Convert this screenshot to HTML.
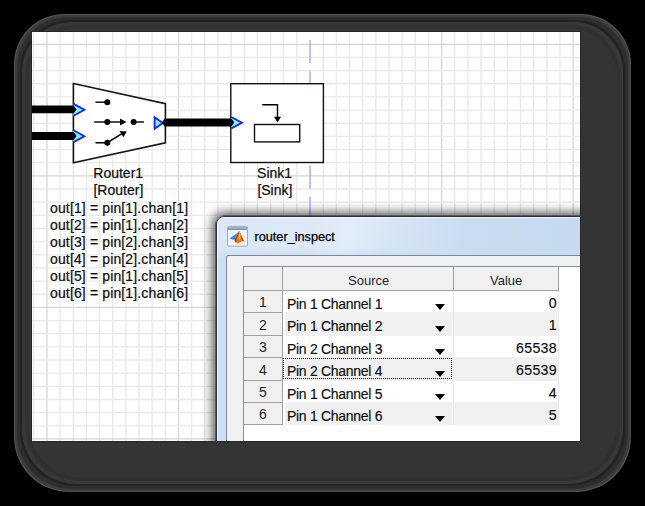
<!DOCTYPE html>
<html><head><meta charset="utf-8"><style>
html,body{margin:0;padding:0;background:#000;}
body{width:645px;height:506px;background:#000;position:relative;overflow:hidden;font-family:"Liberation Sans",sans-serif;}
.fr{position:absolute;border-radius:50px 50px 55px 55px;}
.content{position:absolute;left:32px;top:32px;width:548px;height:409px;background:#fff;overflow:hidden;box-shadow:0 0 0 1px #262626;}
.content svg{position:absolute;left:0;top:0;}
.t{position:absolute;white-space:pre;color:#0c0c0c;font-size:14px;line-height:17px;-webkit-text-stroke:0.2px #0c0c0c;}
.c{transform:translateX(-50%);}
.dlg{position:absolute;left:184px;top:184px;width:420px;height:260px;border:1px solid #3b3f44;border-radius:8px;
 background:linear-gradient(100deg,#d9e7f5 0%,#dde9f6 20%,#e2edf9 29%,#d6e5f5 38%,#c9dcf0 55%,#c3d7ed 100%);
 box-shadow:0 0 0 0.6px rgba(20,20,20,0.6), 0 0 12px 3px rgba(0,0,0,0.72), inset 0 0 0 1px rgba(255,255,255,0.7);border-color:#2c3035;}
.panel{position:absolute;left:8.5px;top:38px;width:400px;height:220px;border:1px solid #80868c;border-radius:2px;background:#f0f0f0;}
.tbl{position:absolute;left:16.5px;top:10px;width:400px;height:220px;border:1px solid #8a9097;background:#fff;}
.hdr{position:absolute;top:0;height:23px;background:#f0f0f0;border-bottom:1px solid #a0a0a0;}
.ht{position:absolute;font-size:13px;color:#1e1e1e;line-height:15px;}
.rh{position:absolute;left:0;width:38px;background:#f0f0f0;border-right:1px solid #a0a0a0;border-bottom:1px solid #a0a0a0;font-size:14px;text-align:center;color:#1e1e1e;}
.cell{position:absolute;font-size:13.4px;color:#0c0c0c;line-height:16px;-webkit-text-stroke:0.15px #0c0c0c;}
.arr{position:absolute;width:0;height:0;border-left:5px solid transparent;border-right:5px solid transparent;border-top:6px solid #000;}
</style></head><body>
<div class="fr" style="left:14px;top:14px;width:617px;height:478px;background:#505050"></div><div class="fr" style="left:15px;top:15px;width:615px;height:476px;background:#3d3d3d"></div><div class="fr" style="left:17px;top:17px;width:611px;height:472px;background:#2e2e2e"></div><div class="fr" style="left:20px;top:20px;width:605px;height:466px;background:#232323"></div><div class="fr" style="left:22px;top:22px;width:601px;height:462px;background:#383838"></div><div class="fr" style="left:25px;top:25px;width:595px;height:456px;background:#303030"></div><div class="fr" style="left:28px;top:28px;width:589px;height:450px;background:#343434"></div>
<div class="content">
<svg width="548" height="409" viewBox="0 0 548 409">
<line x1="1.80" y1="0" x2="1.80" y2="409" stroke="#e9e9e9" stroke-width="1.3"/>
<line x1="14.95" y1="0" x2="14.95" y2="409" stroke="#d6d6d6" stroke-width="1.3"/>
<line x1="28.11" y1="0" x2="28.11" y2="409" stroke="#e9e9e9" stroke-width="1.3"/>
<line x1="41.26" y1="0" x2="41.26" y2="409" stroke="#e9e9e9" stroke-width="1.3"/>
<line x1="54.41" y1="0" x2="54.41" y2="409" stroke="#e9e9e9" stroke-width="1.3"/>
<line x1="67.57" y1="0" x2="67.57" y2="409" stroke="#e9e9e9" stroke-width="1.3"/>
<line x1="80.72" y1="0" x2="80.72" y2="409" stroke="#e9e9e9" stroke-width="1.3"/>
<line x1="93.88" y1="0" x2="93.88" y2="409" stroke="#e9e9e9" stroke-width="1.3"/>
<line x1="107.03" y1="0" x2="107.03" y2="409" stroke="#e9e9e9" stroke-width="1.3"/>
<line x1="120.19" y1="0" x2="120.19" y2="409" stroke="#e9e9e9" stroke-width="1.3"/>
<line x1="133.34" y1="0" x2="133.34" y2="409" stroke="#e9e9e9" stroke-width="1.3"/>
<line x1="146.50" y1="0" x2="146.50" y2="409" stroke="#d6d6d6" stroke-width="1.3"/>
<line x1="159.65" y1="0" x2="159.65" y2="409" stroke="#e9e9e9" stroke-width="1.3"/>
<line x1="172.81" y1="0" x2="172.81" y2="409" stroke="#e9e9e9" stroke-width="1.3"/>
<line x1="185.96" y1="0" x2="185.96" y2="409" stroke="#e9e9e9" stroke-width="1.3"/>
<line x1="199.12" y1="0" x2="199.12" y2="409" stroke="#e9e9e9" stroke-width="1.3"/>
<line x1="212.27" y1="0" x2="212.27" y2="409" stroke="#e9e9e9" stroke-width="1.3"/>
<line x1="225.43" y1="0" x2="225.43" y2="409" stroke="#e9e9e9" stroke-width="1.3"/>
<line x1="238.58" y1="0" x2="238.58" y2="409" stroke="#e9e9e9" stroke-width="1.3"/>
<line x1="251.74" y1="0" x2="251.74" y2="409" stroke="#e9e9e9" stroke-width="1.3"/>
<line x1="264.89" y1="0" x2="264.89" y2="409" stroke="#e9e9e9" stroke-width="1.3"/>
<line x1="291.20" y1="0" x2="291.20" y2="409" stroke="#e9e9e9" stroke-width="1.3"/>
<line x1="304.36" y1="0" x2="304.36" y2="409" stroke="#e9e9e9" stroke-width="1.3"/>
<line x1="317.51" y1="0" x2="317.51" y2="409" stroke="#e9e9e9" stroke-width="1.3"/>
<line x1="330.67" y1="0" x2="330.67" y2="409" stroke="#e9e9e9" stroke-width="1.3"/>
<line x1="343.82" y1="0" x2="343.82" y2="409" stroke="#e9e9e9" stroke-width="1.3"/>
<line x1="356.98" y1="0" x2="356.98" y2="409" stroke="#e9e9e9" stroke-width="1.3"/>
<line x1="370.13" y1="0" x2="370.13" y2="409" stroke="#e9e9e9" stroke-width="1.3"/>
<line x1="383.29" y1="0" x2="383.29" y2="409" stroke="#e9e9e9" stroke-width="1.3"/>
<line x1="396.44" y1="0" x2="396.44" y2="409" stroke="#e9e9e9" stroke-width="1.3"/>
<line x1="409.60" y1="0" x2="409.60" y2="409" stroke="#d6d6d6" stroke-width="1.3"/>
<line x1="422.75" y1="0" x2="422.75" y2="409" stroke="#e9e9e9" stroke-width="1.3"/>
<line x1="435.91" y1="0" x2="435.91" y2="409" stroke="#e9e9e9" stroke-width="1.3"/>
<line x1="449.06" y1="0" x2="449.06" y2="409" stroke="#e9e9e9" stroke-width="1.3"/>
<line x1="462.22" y1="0" x2="462.22" y2="409" stroke="#e9e9e9" stroke-width="1.3"/>
<line x1="475.37" y1="0" x2="475.37" y2="409" stroke="#e9e9e9" stroke-width="1.3"/>
<line x1="488.53" y1="0" x2="488.53" y2="409" stroke="#e9e9e9" stroke-width="1.3"/>
<line x1="501.68" y1="0" x2="501.68" y2="409" stroke="#e9e9e9" stroke-width="1.3"/>
<line x1="514.84" y1="0" x2="514.84" y2="409" stroke="#e9e9e9" stroke-width="1.3"/>
<line x1="528.00" y1="0" x2="528.00" y2="409" stroke="#e9e9e9" stroke-width="1.3"/>
<line x1="541.15" y1="0" x2="541.15" y2="409" stroke="#d6d6d6" stroke-width="1.3"/>
<line x1="0" y1="12.30" x2="548" y2="12.30" stroke="#d6d6d6" stroke-width="1.3"/>
<line x1="0" y1="25.45" x2="548" y2="25.45" stroke="#e9e9e9" stroke-width="1.3"/>
<line x1="0" y1="38.61" x2="548" y2="38.61" stroke="#e9e9e9" stroke-width="1.3"/>
<line x1="0" y1="51.76" x2="548" y2="51.76" stroke="#e9e9e9" stroke-width="1.3"/>
<line x1="0" y1="64.92" x2="548" y2="64.92" stroke="#e9e9e9" stroke-width="1.3"/>
<line x1="0" y1="78.07" x2="548" y2="78.07" stroke="#e9e9e9" stroke-width="1.3"/>
<line x1="0" y1="91.23" x2="548" y2="91.23" stroke="#e9e9e9" stroke-width="1.3"/>
<line x1="0" y1="104.38" x2="548" y2="104.38" stroke="#e9e9e9" stroke-width="1.3"/>
<line x1="0" y1="117.54" x2="548" y2="117.54" stroke="#e9e9e9" stroke-width="1.3"/>
<line x1="0" y1="130.69" x2="548" y2="130.69" stroke="#e9e9e9" stroke-width="1.3"/>
<line x1="0" y1="143.85" x2="548" y2="143.85" stroke="#d6d6d6" stroke-width="1.3"/>
<line x1="0" y1="157.00" x2="548" y2="157.00" stroke="#e9e9e9" stroke-width="1.3"/>
<line x1="0" y1="170.16" x2="548" y2="170.16" stroke="#e9e9e9" stroke-width="1.3"/>
<line x1="0" y1="183.31" x2="548" y2="183.31" stroke="#e9e9e9" stroke-width="1.3"/>
<line x1="0" y1="196.47" x2="548" y2="196.47" stroke="#e9e9e9" stroke-width="1.3"/>
<line x1="0" y1="209.62" x2="548" y2="209.62" stroke="#e9e9e9" stroke-width="1.3"/>
<line x1="0" y1="222.78" x2="548" y2="222.78" stroke="#e9e9e9" stroke-width="1.3"/>
<line x1="0" y1="235.94" x2="548" y2="235.94" stroke="#e9e9e9" stroke-width="1.3"/>
<line x1="0" y1="249.09" x2="548" y2="249.09" stroke="#e9e9e9" stroke-width="1.3"/>
<line x1="0" y1="262.25" x2="548" y2="262.25" stroke="#e9e9e9" stroke-width="1.3"/>
<line x1="0" y1="275.40" x2="548" y2="275.40" stroke="#d6d6d6" stroke-width="1.3"/>
<line x1="0" y1="288.56" x2="548" y2="288.56" stroke="#e9e9e9" stroke-width="1.3"/>
<line x1="0" y1="301.71" x2="548" y2="301.71" stroke="#e9e9e9" stroke-width="1.3"/>
<line x1="0" y1="314.87" x2="548" y2="314.87" stroke="#e9e9e9" stroke-width="1.3"/>
<line x1="0" y1="328.02" x2="548" y2="328.02" stroke="#e9e9e9" stroke-width="1.3"/>
<line x1="0" y1="341.18" x2="548" y2="341.18" stroke="#e9e9e9" stroke-width="1.3"/>
<line x1="0" y1="354.33" x2="548" y2="354.33" stroke="#e9e9e9" stroke-width="1.3"/>
<line x1="0" y1="367.49" x2="548" y2="367.49" stroke="#e9e9e9" stroke-width="1.3"/>
<line x1="0" y1="380.64" x2="548" y2="380.64" stroke="#e9e9e9" stroke-width="1.3"/>
<line x1="0" y1="393.80" x2="548" y2="393.80" stroke="#e9e9e9" stroke-width="1.3"/>
<line x1="0" y1="406.95" x2="548" y2="406.95" stroke="#d6d6d6" stroke-width="1.3"/>
<line x1="278" y1="7.799999999999997" x2="278" y2="409" stroke="#a4a4fa" stroke-width="1.35" stroke-dasharray="23.4 8"/>
<polygon points="41.40,51.50 133.40,71.60 133.40,110.80 41.40,130.80" fill="#fff" stroke="#151515" stroke-width="1.6"/>
<rect x="198.8" y="51.7" width="92.6" height="78.8" fill="#fff" stroke="#111" stroke-width="1.4"/>
<path d="M63.50,70.20 L75.30,70.20" stroke="#000" stroke-width="1.4" fill="none"/>
<circle cx="75.3" cy="70.2" r="3" fill="#000"/>
<path d="M62.30,90.00 L89.00,90.00" stroke="#000" stroke-width="1.4" fill="none"/>
<circle cx="75.3" cy="90" r="3" fill="#000"/>
<polygon points="88.00,86.60 94.50,90.00 88.00,93.40" fill="#000"/>
<circle cx="101.6" cy="90" r="3" fill="#000"/>
<path d="M101.60,90.00 L112.00,90.00" stroke="#000" stroke-width="1.4" fill="none"/>
<path d="M63.50,110.70 L75.30,110.70 L90.00,101.60" stroke="#000" stroke-width="1.4" fill="none"/>
<circle cx="75.3" cy="110.69999999999999" r="3" fill="#000"/>
<polygon points="87.60,99.00 94.80,99.40 91.30,105.20" fill="#000"/>
<polygon points="41.30,71.90 52.40,77.80 41.30,83.70" fill="#7ff5ee"/>
<polygon points="41.30,98.30 52.40,104.20 41.30,110.10" fill="#7ff5ee"/>
<polygon points="122.30,85.00 130.90,91.00 122.30,97.00" fill="#7ff5ee"/>
<polygon points="199.00,85.00 210.00,90.70 199.00,96.40" fill="#7ff5ee"/>
<polygon points="122.60,85.20 130.90,91.00 122.60,96.80" fill="none" stroke="#1424ff" stroke-width="1.8"/>
<polygon points="0.00,73.60 41.60,73.60 44.60,77.40 41.60,81.20 0.00,81.20" fill="#000"/>
<polygon points="0.00,100.10 41.60,100.10 44.60,104.00 41.60,107.90 0.00,107.90" fill="#000"/>
<polygon points="132.50,86.55 199.40,86.55 202.40,90.50 199.40,94.45 132.50,94.45 130.00,90.50" fill="#000"/>
<polyline points="41.60,71.90 52.40,77.80 41.60,83.70" fill="none" stroke="#1424ff" stroke-width="1.8" stroke-linejoin="miter"/>
<polyline points="41.60,98.30 52.40,104.20 41.60,110.10" fill="none" stroke="#1424ff" stroke-width="1.8" stroke-linejoin="miter"/>
<polyline points="199.30,85.00 210.00,90.70 199.30,96.40" fill="none" stroke="#1424ff" stroke-width="1.8" stroke-linejoin="miter"/>
<rect x="222.5" y="92.5" width="45.2" height="17.4" fill="none" stroke="#111" stroke-width="1.4"/>
<path d="M230.20,72.70 L245.50,72.70 L245.50,86.00" stroke="#000" stroke-width="1.4" fill="none"/>
<polygon points="242.00,84.70 249.00,84.70 245.50,90.50" fill="#000"/>
</svg>
<div class="t c" style="left:86.2px;top:133px">Router1</div>
<div class="t c" style="left:86.4px;top:150px">[Router]</div>
<div class="t" style="left:18px;top:168px;letter-spacing:0.14px">out[1] = pin[1].chan[1]</div>
<div class="t" style="left:18px;top:185px;letter-spacing:0.14px">out[2] = pin[1].chan[2]</div>
<div class="t" style="left:18px;top:202px;letter-spacing:0.14px">out[3] = pin[2].chan[3]</div>
<div class="t" style="left:18px;top:219px;letter-spacing:0.14px">out[4] = pin[2].chan[4]</div>
<div class="t" style="left:18px;top:236px;letter-spacing:0.14px">out[5] = pin[1].chan[5]</div>
<div class="t" style="left:18px;top:253px;letter-spacing:0.14px">out[6] = pin[1].chan[6]</div>
<div class="t c" style="left:242.60000000000002px;top:133px">Sink1</div>
<div class="t c" style="left:242.89999999999998px;top:150px">[Sink]</div>
<div class="dlg">
<div style="position:absolute;left:9.6px;top:8.6px;width:21px;height:21px;"><svg width="21" height="21" viewBox="0 0 21 21"><defs><linearGradient id="tb" x1="0" y1="0" x2="0" y2="1"><stop offset="0" stop-color="#9ac0e4"/><stop offset="1" stop-color="#6a96c3"/></linearGradient></defs><rect x="0.5" y="0.5" width="20" height="19.6" rx="1" fill="#f3f3f3" stroke="#a3acb6"/><rect x="1" y="1" width="19" height="3" fill="url(#tb)"/><polygon points="2.3,12.2 6.5,9.8 9.8,7.3 12.3,5.1 10.2,9.8 7.6,13.8 5.2,13.4" fill="#3d8bd0"/><polygon points="12.3,5.1 14.2,8.8 15.6,12.4 17.3,15.6 15.2,15.0 12.6,16.6 10.0,17.4 7.4,14.0 9.6,10.6" fill="#e2741c"/><polygon points="12.3,5.1 9.6,10.6 7.4,14.0 9.0,16.9 9.4,13.0 11.2,9.0" fill="#b3301a"/><polygon points="12.6,5.6 14.6,10.0 17.3,15.6 15.4,14.8 14.0,11.0" fill="#cc4a1c"/><polygon points="12.3,5.2 13.6,8.2 13.4,12.2 12.0,14.8 11.4,10.8" fill="#f6b431"/></svg></div>
<div class="t" style="left:37.5px;top:13px;font-size:12.7px;line-height:15px;color:#000;-webkit-text-stroke:0.25px #000">router_inspect</div>
<div style="position:absolute;left:0;top:30px;width:100%;height:240px;background:linear-gradient(180deg,rgba(203,222,243,0) 0px,#cbdef3 12px);box-shadow:inset 1px 0 0 rgba(255,255,255,0.75)"></div>
<div class="panel">
<div class="tbl">
<div class="hdr" style="left:0;width:38px;border-right:1px solid #a0a0a0"></div><div class="hdr" style="left:39px;width:170px;border-right:1px solid #a0a0a0"></div><div class="hdr" style="left:210px;width:104px;border-right:1px solid #a0a0a0"></div><div class="ht" style="left:104px;top:6px">Source</div><div class="ht" style="left:246px;top:6px">Value</div>
<div style="position:absolute;left:209px;top:24px;width:1px;height:22px;background:#e8e8e8"></div><div style="position:absolute;left:314px;top:24px;width:1px;height:22px;background:#e8e8e8"></div><div class="rh" style="top:24px;height:21px;line-height:21px"><span style="position:relative;top:1px">1</span></div><div class="cell" style="left:43px;top:29px;font-size:14px;letter-spacing:-0.3px">Pin 1 Channel 1</div><div class="arr" style="left:191px;top:37px"></div><div class="cell" style="right:87px;top:28px;text-align:right;font-size:14.2px;letter-spacing:0.3px">0</div>
<div style="position:absolute;left:41px;top:45px;width:273px;height:24px;background:#f0f0f0"></div><div style="position:absolute;left:209px;top:46px;width:1px;height:23px;background:#e8e8e8"></div><div style="position:absolute;left:314px;top:46px;width:1px;height:23px;background:#e8e8e8"></div><div class="rh" style="top:46px;height:22px;line-height:22px"><span style="position:relative;top:1px">2</span></div><div class="cell" style="left:43px;top:51px;font-size:14px;letter-spacing:-0.3px">Pin 1 Channel 2</div><div class="arr" style="left:191px;top:59px"></div><div class="cell" style="right:87px;top:50px;text-align:right;font-size:14.2px;letter-spacing:0.3px">1</div>
<div style="position:absolute;left:209px;top:69px;width:1px;height:22px;background:#e8e8e8"></div><div style="position:absolute;left:314px;top:69px;width:1px;height:22px;background:#e8e8e8"></div><div class="rh" style="top:69px;height:21px;line-height:21px"><span style="position:relative;top:1px">3</span></div><div class="cell" style="left:43px;top:74px;font-size:14px;letter-spacing:-0.3px">Pin 2 Channel 3</div><div class="arr" style="left:191px;top:82px"></div><div class="cell" style="right:87px;top:73px;text-align:right;font-size:14.2px;letter-spacing:0.3px">65538</div>
<div style="position:absolute;left:41px;top:90px;width:273px;height:24px;background:#f0f0f0"></div><div style="position:absolute;left:209px;top:91px;width:1px;height:23px;background:#e8e8e8"></div><div style="position:absolute;left:314px;top:91px;width:1px;height:23px;background:#e8e8e8"></div><div class="rh" style="top:91px;height:22px;line-height:22px"><span style="position:relative;top:1px">4</span></div><div class="cell" style="left:43px;top:96px;font-size:14px;letter-spacing:-0.3px">Pin 2 Channel 4</div><div class="arr" style="left:191px;top:104px"></div><div class="cell" style="right:87px;top:95px;text-align:right;font-size:14.2px;letter-spacing:0.3px">65539</div>
<div style="position:absolute;left:209px;top:114px;width:1px;height:22px;background:#e8e8e8"></div><div style="position:absolute;left:314px;top:114px;width:1px;height:22px;background:#e8e8e8"></div><div class="rh" style="top:114px;height:21px;line-height:21px"><span style="position:relative;top:1px">5</span></div><div class="cell" style="left:43px;top:119px;font-size:14px;letter-spacing:-0.3px">Pin 1 Channel 5</div><div class="arr" style="left:191px;top:127px"></div><div class="cell" style="right:87px;top:118px;text-align:right;font-size:14.2px;letter-spacing:0.3px">4</div>
<div style="position:absolute;left:41px;top:135px;width:273px;height:23px;background:#f0f0f0"></div><div style="position:absolute;left:209px;top:136px;width:1px;height:22px;background:#e8e8e8"></div><div style="position:absolute;left:314px;top:136px;width:1px;height:22px;background:#e8e8e8"></div><div class="rh" style="top:136px;height:21px;line-height:21px"><span style="position:relative;top:1px">6</span></div><div class="cell" style="left:43px;top:141px;font-size:14px;letter-spacing:-0.3px">Pin 1 Channel 6</div><div class="arr" style="left:191px;top:149px"></div><div class="cell" style="right:87px;top:140px;text-align:right;font-size:14.2px;letter-spacing:0.3px">5</div>
<div style="position:absolute;left:39px;top:91px;width:169px;height:21px;border:1px dotted #111;box-sizing:border-box"></div></div>
</div>
</div>
</div>
</body></html>
